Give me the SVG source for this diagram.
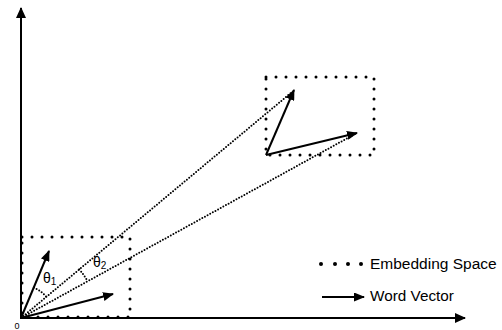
<svg xmlns="http://www.w3.org/2000/svg" width="502" height="330" viewBox="0 0 502 330">
<style>
.axis{stroke:#000;stroke-width:2;fill:none}
.vec{stroke:#000;stroke-width:2;fill:none}
.box{stroke:#000;stroke-width:3;fill:none;stroke-dasharray:0 10;stroke-linecap:round}
.fine{stroke:#000;stroke-width:2;fill:none;stroke-dasharray:0 3;stroke-linecap:round}
.lbl{font-family:"Liberation Sans",Arial,sans-serif;fill:#000}
</style>
<defs>
<marker id="ah" markerUnits="userSpaceOnUse" markerWidth="12" markerHeight="9" refX="10" refY="4.5" orient="auto">
<path d="M0,0 L11,4.5 L0,9 z" fill="#000"/>
</marker>
<marker id="axh" markerUnits="userSpaceOnUse" markerWidth="12" markerHeight="11" refX="10" refY="5" orient="auto">
<path d="M0,0 L11,5 L0,10 z" fill="#000"/>
</marker>
</defs>
<g id="axes">
<line class="axis" x1="21" y1="318" x2="21" y2="8" marker-end="url(#axh)"/>
<line class="axis" x1="20" y1="318" x2="465" y2="318" marker-end="url(#axh)"/>
<text class="lbl" x="17" y="329" font-size="9" text-anchor="middle">0</text>
</g>
<g id="small-space">
<rect class="box" x="22" y="237" width="108" height="80"/>
</g>
<g id="large-space">
<rect class="box" x="266" y="77" width="108" height="78"/>
</g>
<g id="connectors">
<line class="fine" x1="21" y1="318" x2="292" y2="92"/>
<line class="fine" x1="21" y1="318" x2="355" y2="134"/>
<path class="fine" d="M33.9,287.6 A33,33 0 0 1 46.3,296.8"/>
<path class="fine" d="M79.3,269.3 A76,76 0 0 1 87.6,281.3"/>
</g>
<g id="vectors-small">
<line class="vec" x1="21" y1="318" x2="49" y2="251" marker-end="url(#ah)"/>
<line class="vec" x1="21" y1="318" x2="113" y2="294" marker-end="url(#ah)"/>
</g>
<g id="vectors-large">
<line class="vec" x1="266" y1="155" x2="294" y2="90" marker-end="url(#ah)"/>
<line class="vec" x1="266" y1="155" x2="357" y2="133" marker-end="url(#ah)"/>
</g>
<g id="theta1">
<text class="lbl" x="43" y="283" font-size="14">θ<tspan font-size="10" dy="2">1</tspan></text>
</g>
<g id="theta2">
<text class="lbl" x="93" y="267" font-size="14">θ<tspan font-size="10" dy="2">2</tspan></text>
</g>
<g id="legend-embedding">
<circle cx="321" cy="264" r="2"/>
<circle cx="335" cy="264" r="2"/>
<circle cx="348" cy="264" r="2"/>
<circle cx="361" cy="264" r="2"/>
<text class="lbl" x="370" y="268.5" font-size="15.5">Embedding Space</text>
</g>
<g id="legend-vector">
<line class="vec" x1="322" y1="297" x2="364" y2="297" marker-end="url(#ah)"/>
<text class="lbl" x="370" y="301" font-size="15.3">Word Vector</text>
</g>
</svg>
